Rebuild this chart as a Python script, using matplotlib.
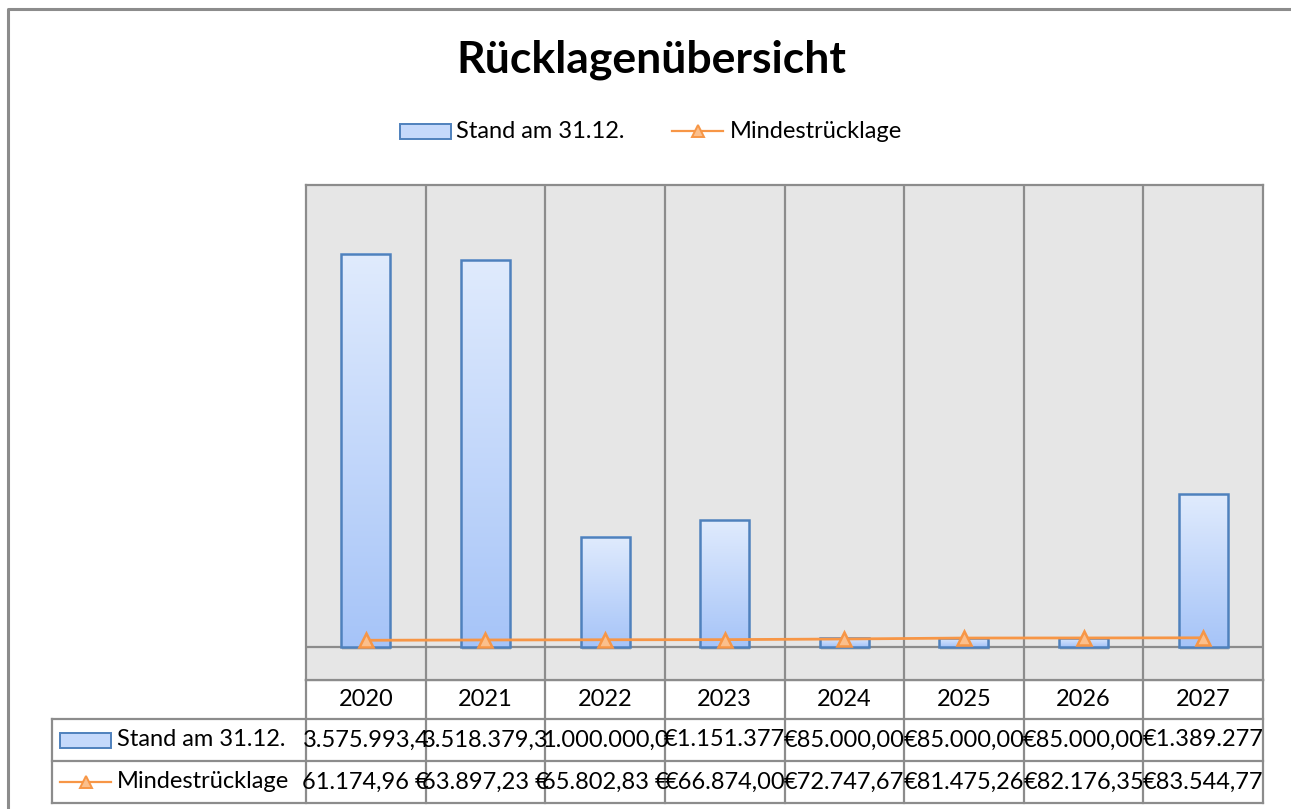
import numpy as np
import matplotlib
matplotlib.use("Agg")
import matplotlib.pyplot as plt
from matplotlib.patches import Rectangle

plt.rcParams['font.family'] = ['Lato', 'DejaVu Sans']

# data
years = ['2020', '2021', '2022', '2023', '2024', '2025', '2026', '2027']
stand = [3575993.4, 3518379.3, 1000000.0, 1151377.0, 85000.0, 85000.0, 85000.0, 1389277.0]
mindest = [61174.96, 63897.23, 65802.83, 66874.00, 72747.67, 81475.26, 82176.35, 83544.77]

# table texts as shown (they overflow their cells in the original)
stand_txt = ['3.575.993,4', '3.518.379,3', '1.000.000,0', '€1.151.377',
             '€85.000,00', '€85.000,00', '€85.000,00', '€1.389.277']
mindest_txt = ['61.174,96 €', '63.897,23 €', '65.802,83 €', '€66.874,00',
               '€72.747,67', '€81.475,26', '€82.176,35', '€83.544,77']

W, H = 1291, 809
fig = plt.figure(figsize=(W / 100, H / 100), dpi=100)

grid_col = '#8c8c8c'
bar_edge = '#4f81bd'
line_col = '#f79646'

# overlay axes in pixel coordinates for border, legend and table
ov = fig.add_axes([0, 0, 1, 1], zorder=0)
ov.set_xlim(0, W)
ov.set_ylim(H, 0)
ov.axis('off')

# chart border (cut at right and bottom in the original)
ov.plot([7.5, 7.5, W + 5], [H + 5, 8.5, 8.5], color=grid_col, lw=2.2, solid_capstyle='butt')

# title
ov.text(651, 60, 'Rücklagenübersicht', ha='center', va='center', fontsize=32, fontweight='bold')

# plot area
L, R, T, B = 306, 1263, 185, 680
ax = fig.add_axes([L / W, 1 - B / H, (R - L) / W, (B - T) / H], zorder=1)
ax.set_facecolor('#e6e6e6')
ax.set_xticks([])
ax.set_yticks([])
for s in ax.spines.values():
    s.set_color(grid_col)
    s.set_linewidth(1.6)
for k in range(1, len(years)):
    ax.axvline(k - 0.5, color=grid_col, lw=1.6, zorder=1)
ax.axhline(0, color=grid_col, lw=1.6, zorder=1)

# gradient bars
x = np.arange(len(years))
bw = 0.41
grad = np.linspace(0, 1, 256).reshape(-1, 1)
cmap = matplotlib.colors.LinearSegmentedColormap.from_list('bl', ['#a6c4f8', '#e0ebfd'])
for xi, v in zip(x, stand):
    # soft shadow
    for off, a in [(0.03, 0.10), (0.018, 0.15)]:
        ax.add_patch(Rectangle((xi - bw / 2 + off * 0.3, -off * 1e6 * 0.9), bw, v,
                               facecolor='#000000', alpha=a, lw=0, zorder=2))
    ax.imshow(grad, cmap=cmap, origin='lower', aspect='auto',
              extent=[xi - bw / 2, xi + bw / 2, 0, v], zorder=3)
ax.bar(x, stand, width=bw, facecolor='none', edgecolor=bar_edge, lw=1.8, zorder=4)
ax.set_xlim(-0.5, len(years) - 0.5)
ax.set_ylim(-300000, 4200000)

ax.plot(x, mindest, color=line_col, lw=2, marker='^', ms=10, mfc='#fbbf8c',
        mec=line_col, mew=1.8, zorder=5)

# legend (drawn by hand to match the original layout)
def bar_key(x0, y0, w=51, h=15):
    ov.add_patch(Rectangle((x0, y0), w, h, facecolor='#c5d9fb', edgecolor=bar_edge, lw=1.4))

def line_key(x0, yc, w=51):
    ov.plot([x0, x0 + w], [yc, yc], color=line_col, lw=1.6)
    ov.plot([x0 + w / 2], [yc], marker='^', ms=9, mfc='#fbbf8c', mec=line_col, mew=1.4)

fs = 17
bar_key(400, 124)
ov.text(456, 131, 'Stand am 31.12.', va='center', ha='left', fontsize=fs)
line_key(672, 131)
ov.text(730, 131, 'Mindestrücklage', va='center', ha='left', fontsize=fs)

# data table
col_w = (R - L) / len(years)
r0, r1, r2, r3 = B, 719, 761, 803
TL = 52
lw_t = 1.6
# horizontal lines
ov.plot([L, R], [r0, r0], color=grid_col, lw=lw_t)
ov.plot([TL, R], [r1, r1], color=grid_col, lw=lw_t)
ov.plot([TL, R], [r2, r2], color=grid_col, lw=lw_t)
ov.plot([TL, R], [r3, r3], color=grid_col, lw=lw_t)
# vertical lines
ov.plot([TL, TL], [r1, r3], color=grid_col, lw=lw_t)
for k in range(len(years) + 1):
    xx = L + k * col_w
    ov.plot([xx, xx], [r0, r3], color=grid_col, lw=lw_t)

for k, yr in enumerate(years):
    cx = L + (k + 0.5) * col_w
    ov.text(cx, (r0 + r1) / 2, yr, ha='center', va='center', fontsize=fs)
    ov.text(cx, (r1 + r2) / 2, stand_txt[k], ha='center', va='center', fontsize=fs)
    ov.text(cx, (r2 + r3) / 2, mindest_txt[k], ha='center', va='center', fontsize=fs)

bar_key(60, (r1 + r2) / 2 - 7)
ov.text(117, (r1 + r2) / 2, 'Stand am 31.12.', ha='left', va='center', fontsize=fs)
line_key(60, (r2 + r3) / 2)
ov.text(117, (r2 + r3) / 2, 'Mindestrücklage', ha='left', va='center', fontsize=fs)

fig.savefig('out.png', dpi=100)
